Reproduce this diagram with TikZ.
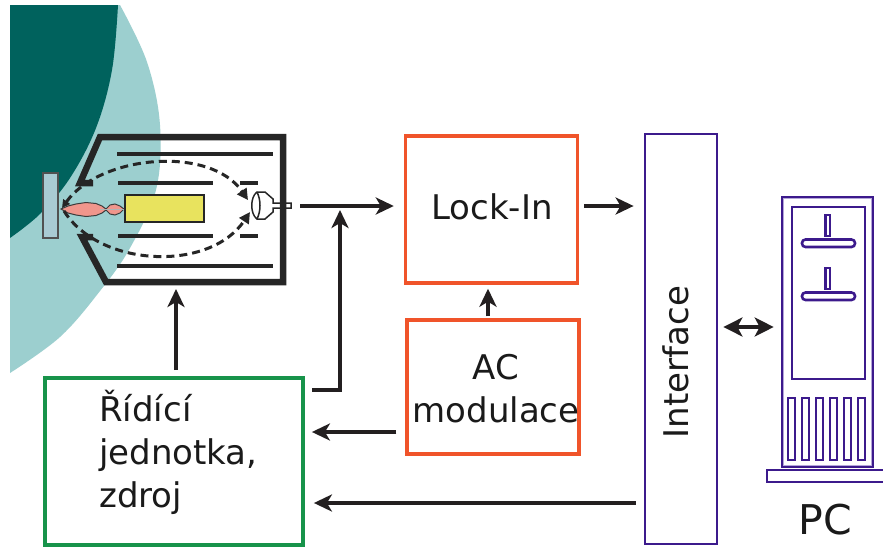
\documentclass[tikz,border=0pt]{standalone}
\usepackage{fontspec}
\setmainfont{DejaVu Sans}
\usetikzlibrary{arrows.meta}

\definecolor{tealdark}{HTML}{00625D}
\definecolor{teallight}{HTML}{9CCFCF}
\definecolor{chamberc}{HTML}{262626}
\definecolor{samplec}{HTML}{A9CBD3}
\definecolor{rodc}{HTML}{E8E35E}
\definecolor{plasmac}{HTML}{F0968C}
\definecolor{orangec}{HTML}{F0542A}
\definecolor{greenc}{HTML}{17934A}
\definecolor{purplec}{HTML}{3C1A8C}
\definecolor{lavenderc}{HTML}{B4A6D8}
\definecolor{arrowc}{HTML}{231F20}
\definecolor{textc}{HTML}{1A1A1A}

\begin{document}
\begin{tikzpicture}[x=1pt,y=-1pt,
  arr/.style={draw=arrowc, line width=3.3pt,
    -{Stealth[length=18pt,width=17pt,inset=5pt]}},
  dblarr/.style={draw=arrowc, line width=3.3pt,
    {Stealth[length=19pt,width=19pt,inset=5pt]}-{Stealth[length=19pt,width=19pt,inset=5pt]}},
  lbl/.style={font=\fontsize{34}{43}\selectfont, text=textc, inner sep=0pt},
  orangebox/.style={draw=orangec, line width=3.4pt, minimum width=172pt},
  chamberline/.style={draw=chamberc, line width=6.5pt, line join=miter},
  electrode/.style={draw=chamberc, line width=3.8pt},
  trajectory/.style={draw=chamberc, line width=3pt, dash pattern=on 8pt off 5pt},
  pcline/.style={draw=purplec, line width=2.6pt, fill=white}]

\fill[white] (0,0) rectangle (883,546);
\useasboundingbox (0,0) rectangle (883,546);

% background discs
\fill[teallight] (10,5) -- plot[smooth, tension=0.6] coordinates
  {(120,5) (147,62) (160,125) (156,190) (130,248) (100,291) (60,337) (10,373)} -- cycle;
\fill[tealdark] (10,5) -- plot[smooth, tension=0.6] coordinates
  {(118,5) (112,70) (96,128) (70,178) (40,214) (10,238)} -- cycle;

% detector
\draw[draw=chamberc, line width=1.5pt, fill=white]
  (257,192) -- (265,192) -- (273,199) -- (273,203) -- (291,203) -- (291,208)
  -- (273,208) -- (273,212) -- (265,219) -- (257,219)
  .. controls (250,214) and (250,197) .. cycle;
\draw[draw=chamberc, line width=1.5pt] (257,192) .. controls (261,200) and (261,211) .. (257,219);

% vacuum chamber
\draw[chamberline] (93,183) -- (80,183) -- (100,137) -- (283,137) -- (283,282)
  -- (106,282) -- (82,237) -- (93,237);
\draw[electrode] (117,154) -- (273,154);
\draw[electrode] (118,183) -- (213,183);
\draw[electrode] (240,183) -- (258,183);
\draw[electrode] (118,236) -- (213,236);
\draw[electrode] (240,236) -- (258,236);
\draw[electrode] (117,266) -- (273,266);

% sample, plasma and rod
\filldraw[fill=samplec, draw=chamberc!80, line width=1.2pt] (43,173) rectangle (58,238);
\filldraw[fill=rodc, draw=chamberc, line width=1.3pt] (125,195) rectangle (204,222);
\filldraw[fill=plasmac, draw=chamberc!90, line width=1pt]
  (61,209) -- (68,206) -- (76,204) -- (86,202.5) -- (96,203.5) -- (102,206) -- (106,209)
  -- (110,205) -- (115,204) -- (120,206) -- (124,209) -- (120,213) -- (115,215)
  -- (110,214) -- (106,210) -- (102,213) -- (96,215.5) -- (86,216.5) -- (76,215)
  -- (68,213) -- cycle;
\draw[gray!60, line width=0.8pt] (100,209) -- (124,209);

% ion trajectories
\draw[trajectory, {Triangle[length=8pt,width=8pt]}-{Triangle[length=11pt,width=11pt]}]
  (62,208) .. controls (100,155) and (210,145) .. (248,200);
\draw[trajectory, -{Triangle[length=11pt,width=11pt]}]
  (64,211) .. controls (100,268) and (210,272) .. (250,212);

% reference points on the chamber
\coordinate (det) at (300,206);
\coordinate (chb) at (176,283);
\coordinate (fb) at (340,210);

% blocks
\node[orangebox, minimum height=147pt] (lockin) at (491.5,209.5) {};
\node[lbl] (lockintext) at (492,207) {Lock-In};
\node[orangebox, minimum height=134pt] (ac) at (493,387) {};
\node[lbl, align=center] (actext) at (496,389) {AC\\modulace};
\node[draw=greenc, line width=3.8pt, minimum width=258pt, minimum height=167pt] (ctrl) at (174,461.5) {};
\node[lbl, align=left, anchor=base west] (ctrltext) at (99,507) {Řídící\\jednotka,\\zdroj};
\node[draw=purplec, line width=2.8pt, minimum width=72pt, minimum height=410pt] (iface) at (681,339) {};
\node[lbl, rotate=90] (ifacetext) at (676,362) {Interface};

% computer
\node[pcline, minimum width=91pt, minimum height=270pt] (pc) at (827.5,332) {};
\draw[lavenderc, line width=1.4pt] ([shift={(2.6pt,-2.6pt)}]pc.north west) rectangle ([shift={(-2.6pt,2.6pt)}]pc.south east);
\draw[pcline] (792,207) rectangle (865,379);
\draw[pcline, rounded corners=3.5pt] (802,239.5) rectangle (855,247);
\draw[pcline] (825.5,215) rectangle (830,236);
\draw[pcline, rounded corners=3.5pt] (802,292.5) rectangle (855,300);
\draw[pcline] (825.5,268) rectangle (830,289);
\foreach \vx in {788,802,816,830,844,858} {
  \draw[pcline] (\vx,398) rectangle ++(7,62);
}
\draw[pcline] (767,470) rectangle (890,482);
\node[font=\fontsize{41}{41}\selectfont, text=textc, inner sep=0pt] (pctext) at (825,520) {PC};

% signal paths
\coordinate (fbin) at (312,390);
\coordinate (acout) at (0,432);
\coordinate (ifout) at (0,503);
\coordinate (pclink) at (0,327);
\draw[arr, shorten >=10pt] (det) -- (det -| lockin.west);
\draw[arr] (fbin) -| (fb);
\draw[arr, shorten <=6pt, shorten >=6pt] (ctrl.north -| chb) -- (chb);
\draw[arr, shorten <=2pt, shorten >=4pt] ([xshift=-5pt]ac.north) -- ([xshift=-5pt]ac.north |- lockin.south);
\draw[arr, shorten <=9pt, shorten >=7pt] (ac.west |- acout) -- (ctrl.east |- acout);
\draw[arr, shorten <=5pt, shorten >=10pt] (lockin.east |- det) -- (iface.west |- det);
\draw[arr, shorten <=8pt, shorten >=9pt] (iface.west |- ifout) -- (ctrl.east |- ifout);
\draw[dblarr, shorten <=5pt, shorten >=7pt] (iface.east |- pclink) -- (pc.west |- pclink);

\end{tikzpicture}
\end{document}
